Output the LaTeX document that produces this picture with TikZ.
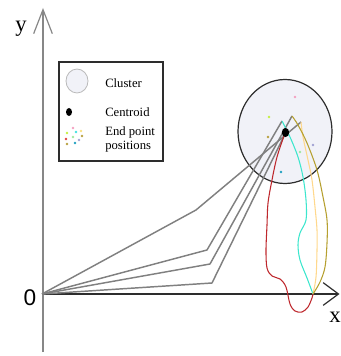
\documentclass[tikz,border=0pt]{standalone}
\usepackage{fontspec}
\setmainfont{Liberation Serif}
\newfontfamily\zerofont{Liberation Sans}
\usetikzlibrary{arrows.meta}
\definecolor{clusterfill}{RGB}{241,242,248}
\definecolor{axisgray}{RGB}{135,135,135}
\definecolor{axisdark}{RGB}{45,45,45}
\definecolor{pathgray}{RGB}{128,128,128}
\definecolor{trajred}{RGB}{190,40,45}
\definecolor{trajcyan}{RGB}{60,230,205}
\definecolor{trajolive}{RGB}{182,160,48}
\definecolor{trajyellow}{RGB}{255,216,140}
\definecolor{dotpink}{RGB}{244,160,192}
\definecolor{dotlime}{RGB}{196,240,64}
\definecolor{dotolive}{RGB}{184,160,64}
\definecolor{dotpurple}{RGB}{160,160,210}
\definecolor{dotgreen}{RGB}{160,232,160}
\definecolor{dotteal}{RGB}{32,160,192}
\definecolor{dotyellow}{RGB}{248,224,128}
\definecolor{dotcyan}{RGB}{64,224,224}
\definecolor{dotred}{RGB}{224,64,64}

\begin{document}
\begin{tikzpicture}[x=0.75pt, y=-0.75pt, every node/.style={inner sep=0pt},
    grayline/.style={pathgray, line width=1.1pt, line join=round},
    traj/.style={line width=0.8pt, smooth, tension=0.55},
    legendtext/.style={anchor=west, align=left, font=\fontsize{9.5}{10.5}\selectfont}]
  \useasboundingbox (0,0) rectangle (340,356);

  % axes
  \coordinate (O) at (42,294);
  \coordinate (ytop) at (43,8);
  \coordinate (ybot) at (43,352);
  \coordinate (xtip) at (339.5,294);
  \draw[axisgray, line width=0.9pt, -{Straight Barb[length=18pt,width=14pt]}] (ybot) -- (ytop);
  \draw[axisdark, line width=0.9pt, -{Straight Barb[length=11.5pt,width=17pt]}] (O) -- (xtip);
  \node[anchor=base, font=\fontsize{17}{17}\selectfont] (ylab) at (21,32) {y};
  \node[anchor=base, font=\fontsize{17}{17}\selectfont] (xlab) at (335,322) {x};
  \node[anchor=base, font=\zerofont\fontsize{17}{17}\selectfont] (zero) at (30,305) {0};

  % legend
  \draw[axisdark, line width=0.8pt] (59,62) rectangle (163,161);
  \draw[clusterfill, draw=gray!55, line width=0.6pt, fill=clusterfill] (77,81) ellipse [x radius=11, y radius=12];
  \fill (69,112) ellipse [x radius=3, y radius=4];
  \foreach \px/\py/\c in {73/128/dotpink, 81/131/dotyellow, 76/132/dotcyan, 67/133/dotlime,
      73/137/dotgreen, 82/136/dotolive, 66/139/dotred, 79/140/dotpurple, 75/143/dotteal, 67/144/dotolive}
    \fill[\c] (\px,\py) circle [radius=1.3];
  \node[legendtext] (lcluster) at (105,83) {Cluster};
  \node[legendtext] (lcentroid) at (105,112) {Centroid};
  \node[legendtext] (lend) at (105,139) {End point\\positions};

  % cluster
  \draw[axisdark, line width=0.9pt, fill=clusterfill] (285,131.5) ellipse [x radius=47, y radius=52];
  \foreach \px/\py/\c in {295/97/dotpink, 269/117/dotlime, 268/137/dotolive,
      313/145/dotpurple, 300/152/dotgreen, 281/172/dotteal}
    \fill[\c] (\px,\py) circle [radius=1.4];

  % paths to the end points
  \coordinate (kA) at (196,210);
  \coordinate (kB) at (207,250);
  \coordinate (kC) at (210,264);
  \coordinate (kD) at (212,283);
  \coordinate (eY) at (301,122);
  \coordinate (eC) at (282,121);
  \coordinate (eO) at (292,116);
  \coordinate (eR) at (284,136);
  \draw[grayline] (O) -- (kA) -- (eY);
  \draw[grayline] (O) -- (kB) -- (eC);
  \draw[grayline] (O) -- (kC) -- (eO);
  \draw[grayline] (O) -- (kD) -- (eR);

  % trajectories back to the axis
  \coordinate (land) at (313,294);
  \draw[traj, trajred] plot coordinates {(eR) (277,157) (272,180) (268,203) (267,225) (266,250)
      (267,268) (272,276) (280,279) (286,287) (290,304) (295,311) (302,312) (308,307) (312,298) (land)};
  \draw[traj, trajcyan] plot coordinates {(eC) (290,137) (298,157) (303,177) (306,200) (306,220)
      (300,233) (298,245) (300,260) (307,278) (land)};
  \draw[traj, trajyellow] plot coordinates {(eY) (303,137) (308,160) (312,180) (315,207) (317,230)
      (317,250) (316,277) (land)};
  \draw[traj, trajolive] plot coordinates {(eO) (298,125) (307,143) (317,170) (323,197) (327,220)
      (327,243) (325,267) (320,282) (land)};

  \fill (285.5,132.5) ellipse [x radius=3.7, y radius=4.6];
\end{tikzpicture}
\end{document}
